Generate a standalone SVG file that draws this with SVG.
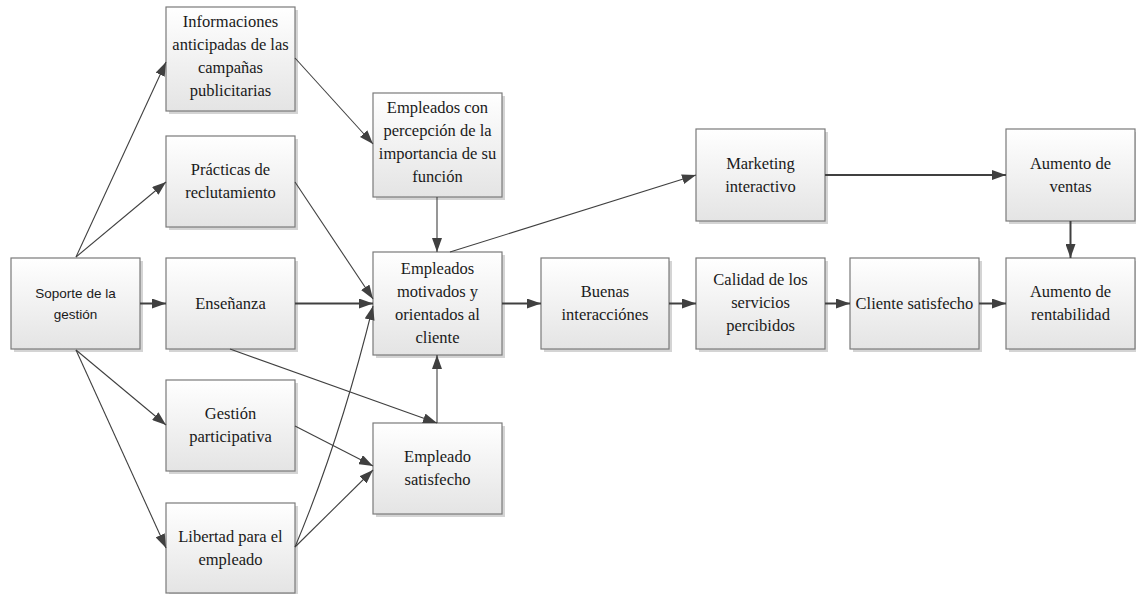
<svg xmlns="http://www.w3.org/2000/svg" width="1136" height="594" viewBox="0 0 1136 594">
<style>
.box{fill:url(#g);stroke:#7a7a7a;stroke-width:1.2}
.sh{fill:#d4d4d4}
.t{font-family:'Liberation Serif','DejaVu Serif','Noto Serif',serif;font-size:16.5px;fill:#1a1a1a;text-anchor:middle}
.s{font-family:'Liberation Sans',Arial,sans-serif;font-size:13.5px;fill:#1a1a1a;text-anchor:middle}
.c{stroke:#404040;fill:none;stroke-width:1.1;marker-end:url(#ah)}
.k{stroke-width:2}
</style>
<defs>
<linearGradient id="g" x1="0" y1="0" x2="0" y2="1">
<stop offset="0" stop-color="#ffffff"/>
<stop offset="1" stop-color="#e4e4e4"/>
</linearGradient>
<marker id="ah" viewBox="0 0 14 10" refX="14" refY="5" markerWidth="14" markerHeight="10" markerUnits="userSpaceOnUse" orient="auto">
<path d="M0,0 L14,5 L0,10 z" fill="#404040"/>
</marker>
</defs>
<rect width="1136" height="594" fill="#ffffff"/>

<g id="n_soporte"><rect class="sh" x="14" y="261" width="129" height="91"/><rect class="box" x="11" y="258" width="129" height="91"/><text class="s" x="75.5" y="298">Soporte de la</text><text class="s" x="75.5" y="319">gestión</text></g>
<g id="n_info"><rect class="sh" x="169" y="10" width="129" height="104"/><rect class="box" x="166" y="7" width="129" height="104"/><text class="t" x="230.5" y="27">Informaciones</text><text class="t" x="230.5" y="50">anticipadas de las</text><text class="t" x="230.5" y="73">campañas</text><text class="t" x="230.5" y="96">publicitarias</text></g>
<g id="n_practicas"><rect class="sh" x="169" y="139" width="129" height="91"/><rect class="box" x="166" y="136" width="129" height="91"/><text class="t" x="230.5" y="175">Prácticas de</text><text class="t" x="230.5" y="198">reclutamiento</text></g>
<g id="n_ensenanza"><rect class="sh" x="169" y="261" width="129" height="91"/><rect class="box" x="166" y="258" width="129" height="91"/><text class="t" x="230.5" y="309">Enseñanza</text></g>
<g id="n_gestion"><rect class="sh" x="169" y="383" width="129" height="91"/><rect class="box" x="166" y="380" width="129" height="91"/><text class="t" x="230.5" y="419">Gestión</text><text class="t" x="230.5" y="442">participativa</text></g>
<g id="n_libertad"><rect class="sh" x="169" y="506" width="129" height="90"/><rect class="box" x="166" y="503" width="129" height="90"/><text class="t" x="230.5" y="542">Libertad para el</text><text class="t" x="230.5" y="565">empleado</text></g>
<g id="n_percepcion"><rect class="sh" x="376" y="96" width="129" height="104"/><rect class="box" x="373" y="93" width="129" height="104"/><text class="t" x="437.5" y="113">Empleados con</text><text class="t" x="437.5" y="136">percepción de la</text><text class="t" x="437.5" y="159">importancia de su</text><text class="t" x="437.5" y="182">función</text></g>
<g id="n_motivados"><rect class="sh" x="376" y="255" width="129" height="103"/><rect class="box" x="373" y="252" width="129" height="103"/><text class="t" x="437.5" y="274">Empleados</text><text class="t" x="437.5" y="297">motivados y</text><text class="t" x="437.5" y="320">orientados al</text><text class="t" x="437.5" y="343">cliente</text></g>
<g id="n_satisfecho"><rect class="sh" x="376" y="426" width="129" height="91"/><rect class="box" x="373" y="423" width="129" height="91"/><text class="t" x="437.5" y="462">Empleado</text><text class="t" x="437.5" y="485">satisfecho</text></g>
<g id="n_marketing"><rect class="sh" x="699" y="132" width="129" height="92"/><rect class="box" x="696" y="129" width="129" height="92"/><text class="t" x="760.5" y="169">Marketing</text><text class="t" x="760.5" y="192">interactivo</text></g>
<g id="n_ventas"><rect class="sh" x="1009" y="132" width="129" height="92"/><rect class="box" x="1006" y="129" width="129" height="92"/><text class="t" x="1070.5" y="169">Aumento de</text><text class="t" x="1070.5" y="192">ventas</text></g>
<g id="n_buenas"><rect class="sh" x="544" y="261" width="128" height="91"/><rect class="box" x="541" y="258" width="128" height="91"/><text class="t" x="605" y="297">Buenas</text><text class="t" x="605" y="320">interacciónes</text></g>
<g id="n_calidad"><rect class="sh" x="699" y="261" width="129" height="91"/><rect class="box" x="696" y="258" width="129" height="91"/><text class="t" x="760.5" y="285">Calidad de los</text><text class="t" x="760.5" y="308">servicios</text><text class="t" x="760.5" y="331">percibidos</text></g>
<g id="n_cliente"><rect class="sh" x="853" y="261" width="129" height="91"/><rect class="box" x="850" y="258" width="129" height="91"/><text class="t" x="914.5" y="309">Cliente satisfecho</text></g>
<g id="n_rentabilidad"><rect class="sh" x="1009" y="261" width="129" height="91"/><rect class="box" x="1006" y="258" width="129" height="91"/><text class="t" x="1070.5" y="297">Aumento de</text><text class="t" x="1070.5" y="320">rentabilidad</text></g>

<g id="connectors">
<line class="c" x1="76" y1="257" x2="166" y2="62"/>
<line class="c" x1="76" y1="257" x2="166" y2="182"/>
<line class="c k" x1="140" y1="303.5" x2="166" y2="303.5"/>
<line class="c" x1="76" y1="350" x2="166" y2="425"/>
<line class="c" x1="76" y1="350" x2="166" y2="548"/>
<line class="c" x1="295" y1="58" x2="373" y2="144"/>
<line class="c" x1="295" y1="182" x2="373" y2="299"/>
<line class="c k" x1="295" y1="303.5" x2="373" y2="303.5"/>
<path class="c" d="M295,547 Q340,440 373,306"/>
<line class="c" x1="295" y1="547" x2="373" y2="470"/>
<line class="c" x1="295" y1="426" x2="373" y2="466"/>
<line class="c" x1="230" y1="349" x2="437" y2="423"/>
<line class="c" x1="437" y1="423" x2="437" y2="355"/>
<line class="c" x1="437" y1="197" x2="437" y2="252"/>
<line class="c" x1="450" y1="252" x2="696" y2="175"/>
<line class="c k" x1="502" y1="303.5" x2="541" y2="303.5"/>
<line class="c k" x1="669" y1="303.5" x2="696" y2="303.5"/>
<line class="c k" x1="825" y1="303.5" x2="850" y2="303.5"/>
<line class="c k" x1="979" y1="303.5" x2="1006" y2="303.5"/>
<line class="c k" x1="825" y1="175" x2="1006" y2="175"/>
<line class="c k" x1="1070.5" y1="221" x2="1070.5" y2="258"/>
</g>
</svg>
